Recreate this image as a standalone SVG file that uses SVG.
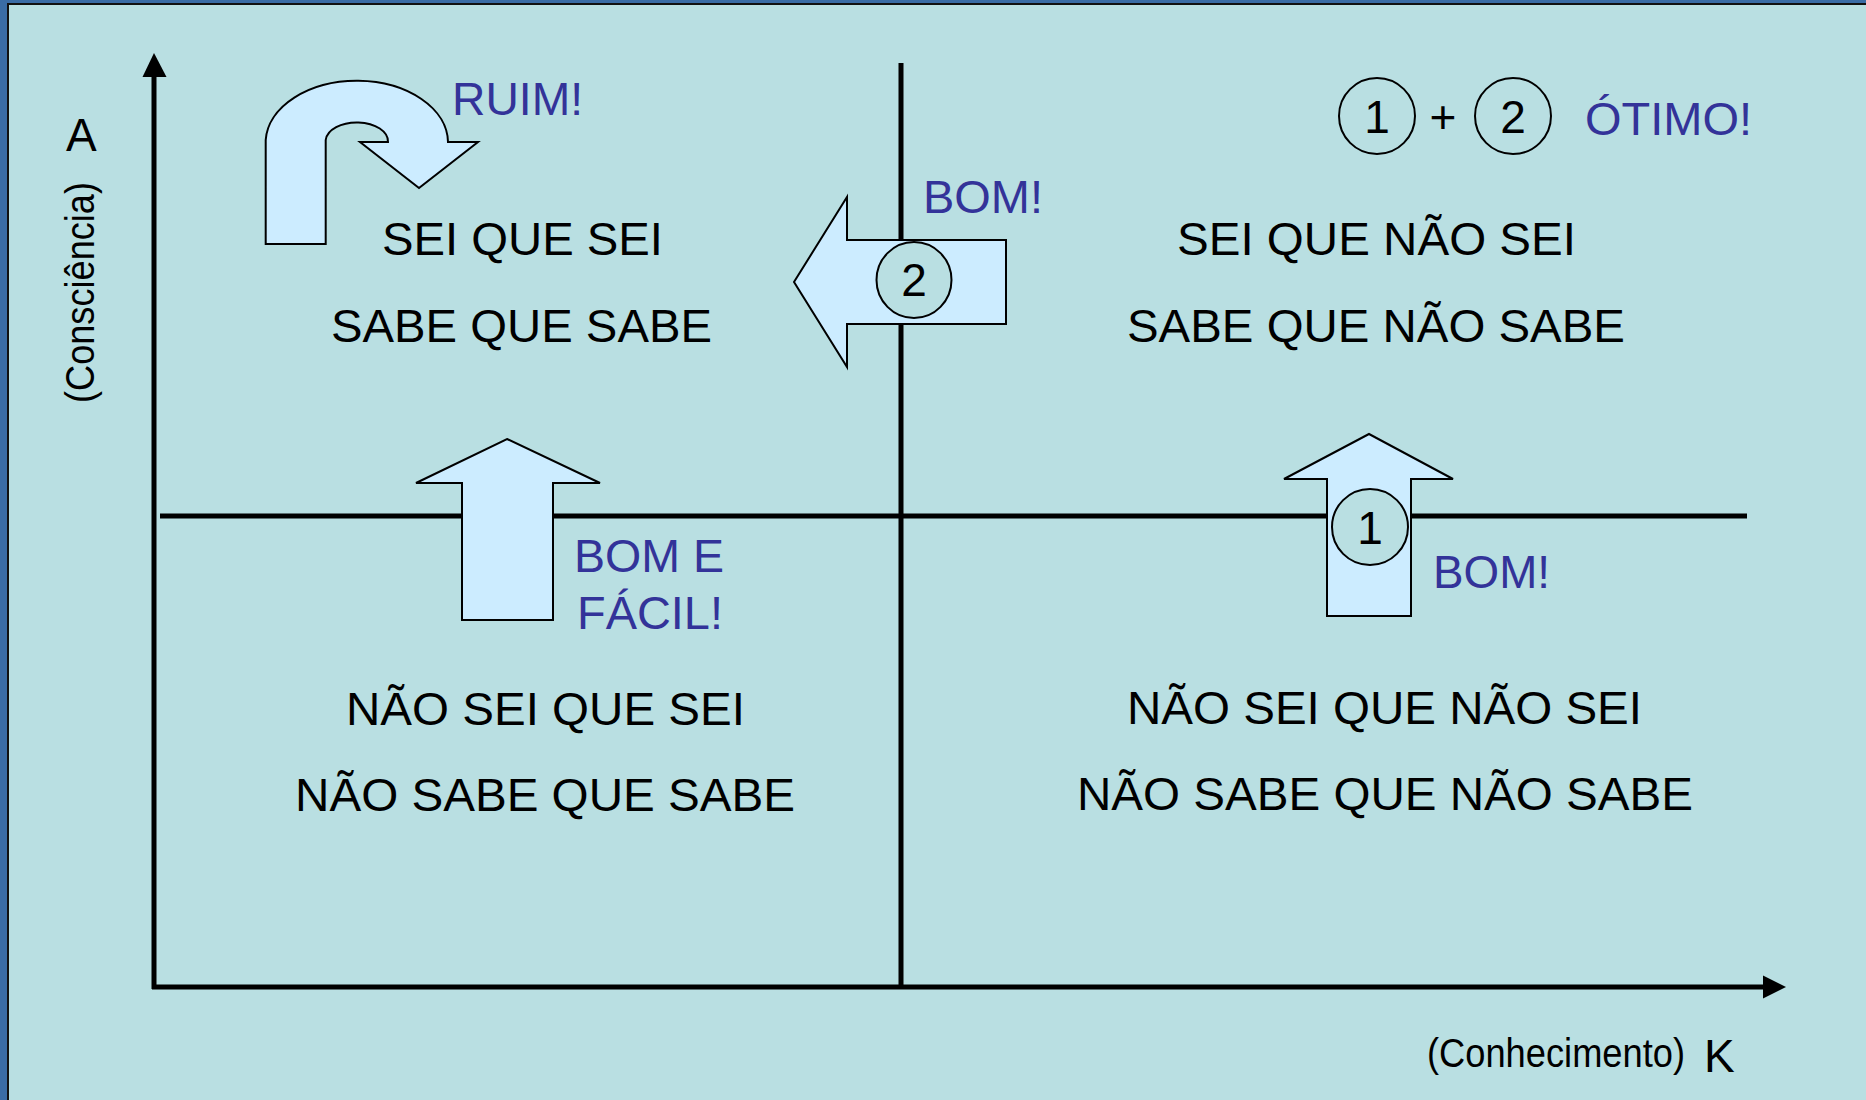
<svg xmlns="http://www.w3.org/2000/svg" width="1866" height="1100" viewBox="0 0 1866 1100">
<defs>
<style>
.t{font-family:"Liberation Sans",Arial,sans-serif;font-size:46px;fill:#000}
.b{font-family:"Liberation Sans",Arial,sans-serif;font-size:46px;fill:#333399}
.s{font-family:"Liberation Sans",Arial,sans-serif;font-size:40px;fill:#000}
.d{font-family:"Liberation Sans",Arial,sans-serif;font-size:46px;fill:#000;text-anchor:middle}
.ar{fill:#CCECFF;stroke:#000;stroke-width:2;stroke-linejoin:miter}
.ci{fill:#B9DFE2;stroke:#000;stroke-width:2}
.ln{stroke:#000;stroke-width:5;fill:none}
</style>
</defs>
<rect x="0" y="0" width="1866" height="1100" fill="#3A6CA5"/>
<rect x="8" y="4" width="1870" height="1110" fill="#B9DFE2" stroke="#111" stroke-width="2"/>
<g id="connectors">
<line class="ln" x1="154" y1="72" x2="154" y2="989"/>
<polygon points="154,53 142.5,77 166.5,77" fill="#000"/>
<line class="ln" x1="152" y1="987" x2="1766" y2="987"/>
<polygon points="1786,987 1763,975.5 1763,998.5" fill="#000"/>
<line class="ln" x1="901" y1="63" x2="901" y2="987"/>
<line class="ln" x1="160" y1="516" x2="1747" y2="516"/>
</g>
<g id="axis-labels">
<text class="t" x="66" y="151">A</text>
<text class="s" transform="translate(94,292.5) rotate(-90)" text-anchor="middle" x="0" y="0" textLength="221" lengthAdjust="spacingAndGlyphs">(Consciência)</text>
<text class="s" x="1427" y="1067"><tspan textLength="258" lengthAdjust="spacingAndGlyphs">(Conhecimento)</tspan><tspan x="1704" y="1072" font-size="46">K</tspan></text>
</g>
<g id="arrow-ruim">
<path class="ar" d="M265.7,244 V140 A91.2,62 0 0 1 448,142 H478 L419,188 L360,142 H388 A31.2,19 0 0 0 325.7,140 V244 Z"/>
<text class="b" x="452" y="115" textLength="131" lengthAdjust="spacingAndGlyphs">RUIM!</text>
</g>
<g id="arrow-bom-facil">
<polygon class="ar" points="507,439 600,483 553,483 553,620 462,620 462,483 416,483"/>
<text class="b" x="574" y="572" textLength="150" lengthAdjust="spacingAndGlyphs">BOM E</text>
<text class="b" x="577" y="629" textLength="146" lengthAdjust="spacingAndGlyphs">FÁCIL!</text>
</g>
<g id="arrow-2">
<polygon class="ar" points="794,282 847,197 847,240 1006,240 1006,324 847,324 847,367"/>
<ellipse class="ci" cx="914" cy="280" rx="37.5" ry="38"/>
<text class="d" x="914" y="296">2</text>
<text class="b" x="923" y="213" textLength="120" lengthAdjust="spacingAndGlyphs">BOM!</text>
</g>
<g id="arrow-1">
<polygon class="ar" points="1369,434 1453,479 1411,479 1411,616 1327,616 1327,479 1284,479"/>
<ellipse class="ci" cx="1370" cy="527" rx="38" ry="38"/>
<text class="d" x="1370" y="544">1</text>
<text class="b" x="1433" y="588" textLength="117" lengthAdjust="spacingAndGlyphs">BOM!</text>
</g>
<g id="legend">
<ellipse class="ci" cx="1377" cy="116" rx="38" ry="38"/>
<text class="d" x="1377" y="133">1</text>
<text class="d" x="1443" y="133">+</text>
<ellipse class="ci" cx="1513" cy="116" rx="38" ry="38"/>
<text class="d" x="1513" y="133">2</text>
<text class="b" x="1585" y="135" textLength="167" lengthAdjust="spacingAndGlyphs">ÓTIMO!</text>
</g>
<g id="q-top-left">
<text class="t" x="382" y="255" textLength="281" lengthAdjust="spacingAndGlyphs">SEI QUE SEI</text>
<text class="t" x="331" y="342" textLength="381" lengthAdjust="spacingAndGlyphs">SABE QUE SABE</text>
</g>
<g id="q-top-right">
<text class="t" x="1177" y="255" textLength="399" lengthAdjust="spacingAndGlyphs">SEI QUE NÃO SEI</text>
<text class="t" x="1127" y="342" textLength="498" lengthAdjust="spacingAndGlyphs">SABE QUE NÃO SABE</text>
</g>
<g id="q-bottom-left">
<text class="t" x="346" y="725" textLength="399" lengthAdjust="spacingAndGlyphs">NÃO SEI QUE SEI</text>
<text class="t" x="295" y="811" textLength="500" lengthAdjust="spacingAndGlyphs">NÃO SABE QUE SABE</text>
</g>
<g id="q-bottom-right">
<text class="t" x="1127" y="724" textLength="515" lengthAdjust="spacingAndGlyphs">NÃO SEI QUE NÃO SEI</text>
<text class="t" x="1077" y="810" textLength="616" lengthAdjust="spacingAndGlyphs">NÃO SABE QUE NÃO SABE</text>
</g>
</svg>
